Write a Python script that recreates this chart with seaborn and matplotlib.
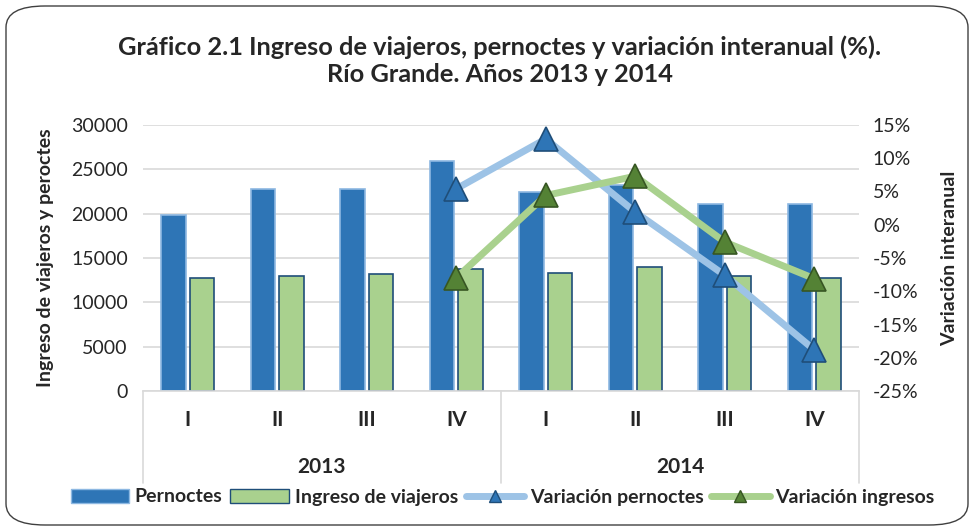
import matplotlib
matplotlib.use("Agg")
import matplotlib.pyplot as plt
import matplotlib.transforms as mtransforms
from matplotlib.patches import FancyBboxPatch, Patch
from matplotlib.lines import Line2D
import seaborn as sns
import pandas as pd
import numpy as np

quarters = ["I", "II", "III", "IV", "I", "II", "III", "IV"]
years = ["2013", "2014"]
pernoctes = [19900, 22800, 22800, 25900, 22500, 23250, 21100, 21100]
ingreso_viajeros = [12800, 13000, 13250, 13800, 13350, 13950, 12950, 12700]
var_pernoctes = [None, None, None, 5.4, 12.9, 1.9, -7.6, -18.8]
var_ingresos = [None, None, None, -8.0, 4.4, 7.3, -2.6, -8.1]

sns.set_theme(style="white")
plt.rcParams["font.family"] = ["Lato", "DejaVu Sans"]

fig = plt.figure(figsize=(9.76, 5.31), dpi=100)
ax = fig.add_axes([143/976, 1-391/531, (859-143)/976, (391-125)/531])

cat = [f"{y}-{q}" for y in years for q in ["I", "II", "III", "IV"]]
df = pd.DataFrame({
    "cat": cat * 2,
    "valor": pernoctes + ingreso_viajeros,
    "serie": ["Pernoctes"] * 8 + ["Ingreso de viajeros"] * 8,
})
c_blue = "#2E75B6"
c_green = "#A9D18E"
sns.barplot(data=df, x="cat", y="valor", hue="serie", order=cat,
            palette={"Pernoctes": c_blue, "Ingreso de viajeros": c_green},
            saturation=1, width=0.64, gap=0.14, ax=ax, legend=False, zorder=2)
for i, p in enumerate(ax.patches):
    if i < 8:
        p.set_edgecolor("#8DB8E2")
    else:
        p.set_edgecolor("#1F4E79")
    p.set_linewidth(1.2)

ax.set_ylim(0, 30000)
ax.set_yticks(np.arange(0, 30001, 5000))
ax.set_yticklabels([str(v) for v in range(0, 30001, 5000)], fontsize=14)
ax.set_xlim(-0.5, 7.5)
ax.set_xticks(range(8))
ax.set_xticklabels(quarters, fontsize=15, fontweight="bold")
ax.tick_params(axis="x", pad=14, length=0)
ax.tick_params(axis="y", pad=11, length=0)
ax.set_xlabel("")
ax.set_ylabel("Ingreso de viajeros y peroctes", fontsize=14, fontweight="bold", labelpad=12)
ax.grid(axis="y", color="#D9D9D9", linewidth=1.2, zorder=0)
ax.set_axisbelow(True)
for s in ["top", "right", "left"]:
    ax.spines[s].set_visible(False)
ax.spines["bottom"].set_color("#D9D9D9")
ax.spines["bottom"].set_linewidth(1.2)

trans = mtransforms.blended_transform_factory(ax.transData, ax.transAxes)
for xv in [-0.5, 3.5, 7.5]:
    ax.add_line(Line2D([xv, xv], [0, -(483-391)/266], transform=trans,
                       color="#D9D9D9", linewidth=1.2, clip_on=False))
for i, y in enumerate(years):
    ax.text(1.5 + 4*i, -(467-391)/266, y, transform=trans, ha="center", va="center",
            fontsize=15, fontweight="bold")

ax2 = ax.twinx()
vp = pd.Series(var_pernoctes, dtype=float)
vi = pd.Series(var_ingresos, dtype=float)
sns.lineplot(x=np.arange(8), y=vp, ax=ax2, color="#9DC3E6", linewidth=5, zorder=3,
             marker="^", markersize=17, markerfacecolor=c_blue, markeredgecolor="#1F4E79",
             markeredgewidth=1.2, legend=False)
sns.lineplot(x=np.arange(8), y=vi, ax=ax2, color=c_green, linewidth=5, zorder=3,
             marker="^", markersize=17, markerfacecolor="#548235", markeredgecolor="#375623",
             markeredgewidth=1.2, legend=False)
ax2.set_ylim(-25, 15)
ax2.set_yticks(np.arange(-25, 16, 5))
ax2.set_yticklabels([f"{v}%" for v in range(-25, 16, 5)], fontsize=14)
ax2.tick_params(axis="y", pad=10, length=0)
ax2.set_ylabel("Variación interanual", fontsize=14, fontweight="bold", labelpad=16)
for s in ax2.spines.values():
    s.set_visible(False)
ax2.grid(False)

fig.text(0.512, 1-47/531, "Gráfico 2.1 Ingreso de viajeros, pernoctes y variación interanual (%).",
         ha="center", va="center", fontsize=18.3, fontweight="bold")
fig.text(0.512, 1-75/531, "Río Grande. Años 2013 y 2014",
         ha="center", va="center", fontsize=18.3, fontweight="bold")

handles = [
    Patch(facecolor=c_blue, edgecolor="#8DB8E2"),
    Patch(facecolor=c_green, edgecolor="#1F4E79"),
    Line2D([], [], color="#9DC3E6", linewidth=5, marker="^", markersize=9,
           markerfacecolor=c_blue, markeredgecolor="#1F4E79"),
    Line2D([], [], color=c_green, linewidth=5, marker="^", markersize=9,
           markerfacecolor="#548235", markeredgecolor="#375623"),
]
labels = ["Pernoctes", "Ingreso de viajeros", "Variación pernoctes", "Variación ingresos"]
fig.legend(handles, labels, loc="center", bbox_to_anchor=(0.515, 1-497/531), ncol=4,
           frameon=False, prop={"weight": "bold", "size": 14},
           handlelength=3.0, handletextpad=0.3, columnspacing=0.4)

fig.patches.append(FancyBboxPatch((6/976, 6/531), 962/976, 519/531,
                                  boxstyle="round,pad=0,rounding_size=0.04",
                                  transform=fig.transFigure, facecolor="none",
                                  edgecolor="#404040", linewidth=1.0))

fig.savefig("out.png", dpi=100)
